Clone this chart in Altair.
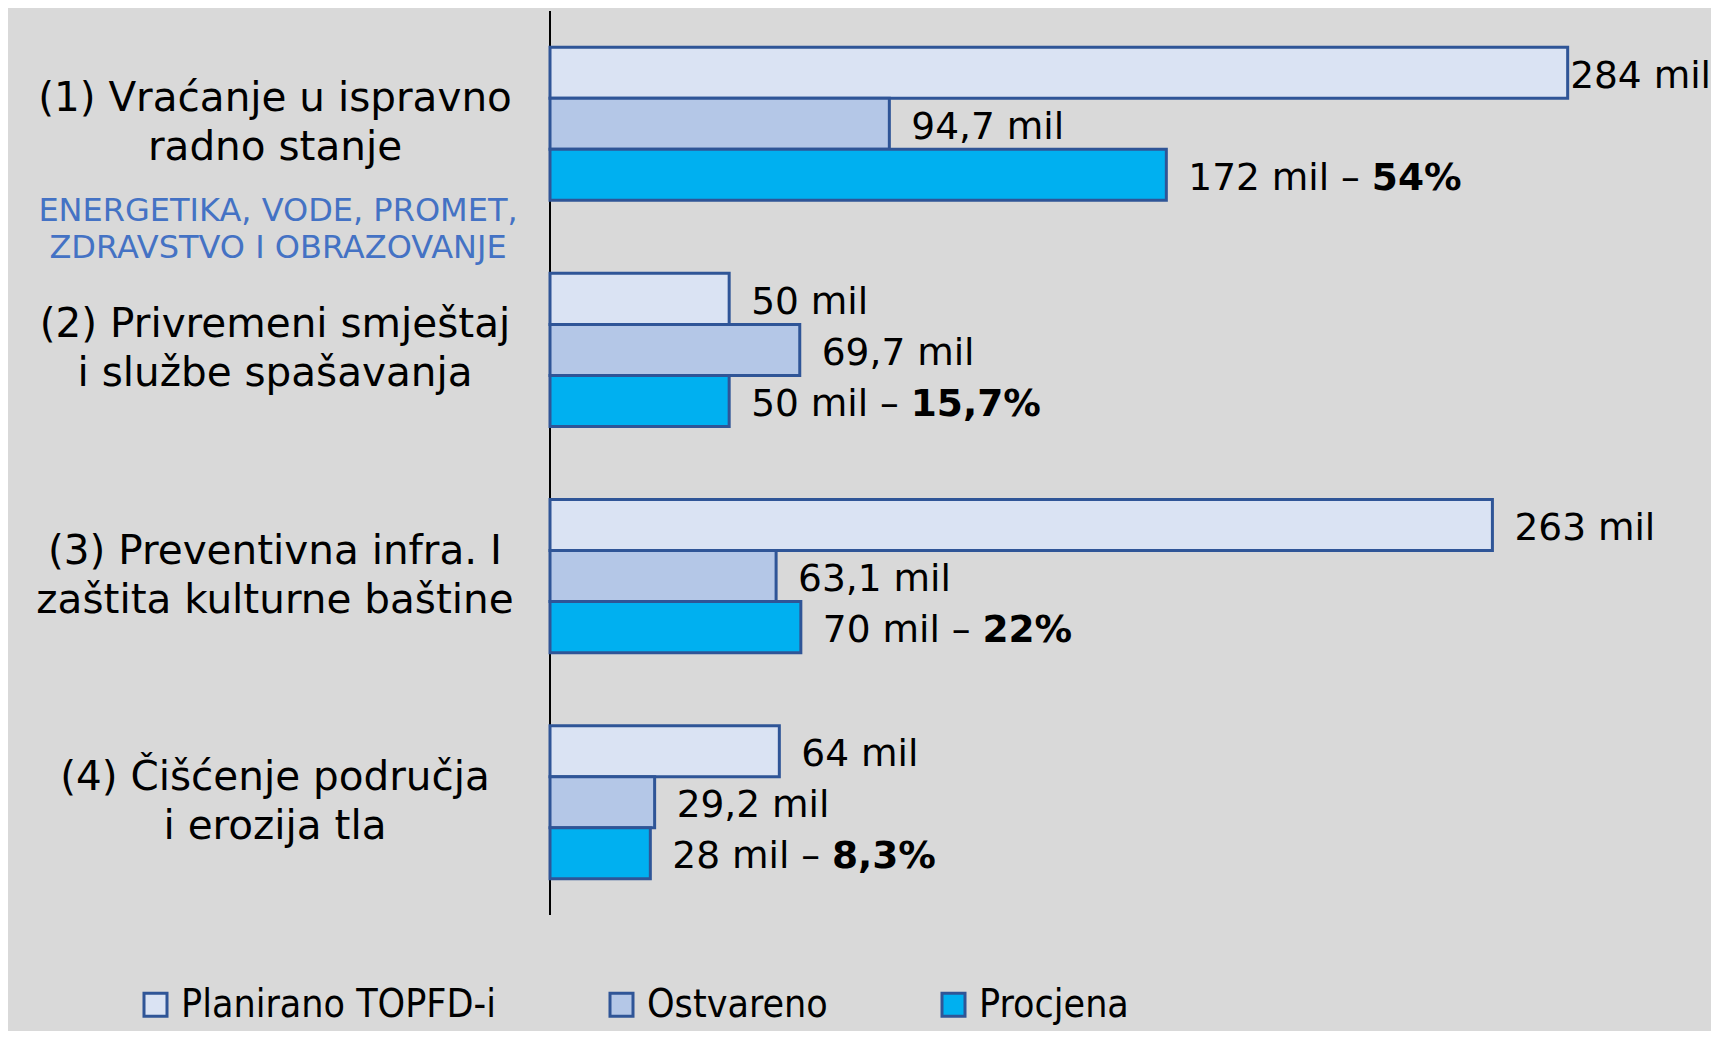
import altair as alt
import pandas as pd

categories = [
    "(1) Vraćanje u ispravno\nradno stanje",
    "(2) Privremeni smještaj\ni službe spašavanja",
    "(3) Preventivna infra. I\nzaštita kulturne baštine",
    "(4) Čišćenje područja\ni erozija tla",
]
series = ["Planirano TOPFD-i", "Ostvareno", "Procjena"]
planirano = [284, 50, 263, 64]
ostvareno = [94.7, 69.7, 63.1, 29.2]
procjena = [172, 50, 70, 28]
procjena_pct = ["54%", "15,7%", "22%", "8,3%"]
subtitle = "ENERGETIKA, VODE, PROMET,\nZDRAVSTVO I OBRAZOVANJE"

fills = ["#DAE3F3", "#B4C7E7", "#00B0F0"]
edge = "#2F5597"

W, H = 1075, 904
PAD_L = 542
TOTAL_W = 1703
XMAX = 300
PPU = W / XMAX
GAP = 22
FS = 37.5
RIGHT_LIMIT = TOTAL_W - PAD_L  # keep labels inside the canvas

# approximate DejaVu Sans advance widths (em fractions)
CW = {" ": 0.318, "m": 0.974, "i": 0.278, "l": 0.278, "–": 0.5, ",": 0.318}
for d in "0123456789":
    CW[d] = 0.636


def fmt(v):
    return f"{v:g}".replace(".", ",") + " mil"


def textw(s):
    return sum(CW.get(c, 0.6) for c in s) * FS


rows = []
for i, c in enumerate(categories):
    for s, vals in zip(series, [planirano, ostvareno, procjena]):
        v = vals[i]
        if s == "Procjena":
            lab = fmt(v) + " – "
            pct = procjena_pct[i]
        else:
            lab = fmt(v)
            pct = ""
        rows.append({"cat": c, "series": s, "value": v, "label": lab,
                     "pct": pct, "pw": textw(lab)})
df = pd.DataFrame(rows)

cat_df = pd.DataFrame({"cat": categories})
sub_df = pd.DataFrame({"cat": [categories[0]], "sub": [subtitle]})

yscale = alt.Scale(paddingInner=0.323, paddingOuter=0.16)
xscale = alt.Scale(domain=[0, XMAX])
ysort = categories

base = alt.Chart(df)

axis_rule = alt.Chart(cat_df).mark_rule(color="black", strokeWidth=2).encode(
    x=alt.value(0), y=alt.value(0), y2=alt.value(H)
)

bars = base.mark_bar(stroke=edge, strokeWidth=3).encode(
    x=alt.X("value:Q", scale=xscale, axis=None),
    y=alt.Y("cat:N", sort=ysort, scale=yscale, axis=None),
    yOffset=alt.YOffset("series:N", sort=series),
    color=alt.Color("series:N", sort=series,
                    scale=alt.Scale(domain=series, range=fills),
                    legend=alt.Legend(orient="none", legendX=-414, legendY=974,
                                      direction="horizontal", title=None,
                                      symbolType="square", symbolSize=529,
                                      symbolStrokeColor=edge, symbolStrokeWidth=3,
                                      labelFontSize=39, labelColor="black",
                                      labelFont="DejaVu Sans Condensed, Liberation Sans Narrow, sans-serif",
                                      labelLimit=600, labelOffset=6,
                                      columnPadding=106, columns=3)),
)

labels = base.transform_calculate(
    lx=f"min(datum.value + {GAP} / {PPU}, ({RIGHT_LIMIT} - datum.pw) / {PPU})"
).mark_text(align="left", baseline="middle", fontSize=FS, dy=4,
            font="DejaVu Sans", color="black").encode(
    x=alt.X("lx:Q", scale=xscale, axis=None),
    y=alt.Y("cat:N", sort=ysort, scale=yscale, axis=None),
    yOffset=alt.YOffset("series:N", sort=series),
    text="label:N",
)

bold = base.transform_filter(alt.datum.series == "Procjena").transform_calculate(
    bx=f"datum.value + ({GAP} + datum.pw) / {PPU}"
).mark_text(align="left", baseline="middle", fontSize=FS, fontWeight="bold", dy=4,
            font="DejaVu Sans", color="black").encode(
    x=alt.X("bx:Q", scale=xscale, axis=None),
    y=alt.Y("cat:N", sort=ysort, scale=yscale, axis=None),
    yOffset=alt.YOffset("series:N", sort=series),
    text="pct:N",
)

catlabels = alt.Chart(cat_df).mark_text(align="center", baseline="middle", lineBreak="\n",
                                        fontSize=40.5, lineHeight=49, dy=-24.5,
                                        font="DejaVu Sans", color="black").encode(
    x=alt.value(-275),
    y=alt.Y("cat:N", sort=ysort, scale=yscale, axis=None),
    text="cat:N",
)

sub = alt.Chart(sub_df).mark_text(align="center", baseline="middle", lineBreak="\n",
                                  fontSize=32, lineHeight=37.5, dy=87, font="DejaVu Sans",
                                  color="#4472C4").encode(
    x=alt.value(-272),
    y=alt.Y("cat:N", sort=ysort, scale=yscale, axis=None),
    text="sub:N",
)

chart = alt.layer(axis_rule, bars, labels, bold, catlabels, sub).properties(
    width=W, height=H,
    autosize=alt.AutoSizeParams(type="none"),
    padding={"left": PAD_L, "top": 3, "right": TOTAL_W - PAD_L - W, "bottom": 116},
    background="#D9D9D9",
).configure_view(stroke=None)

chart.save("out.html", embed_options={"renderer": "svg", "actions": False})
